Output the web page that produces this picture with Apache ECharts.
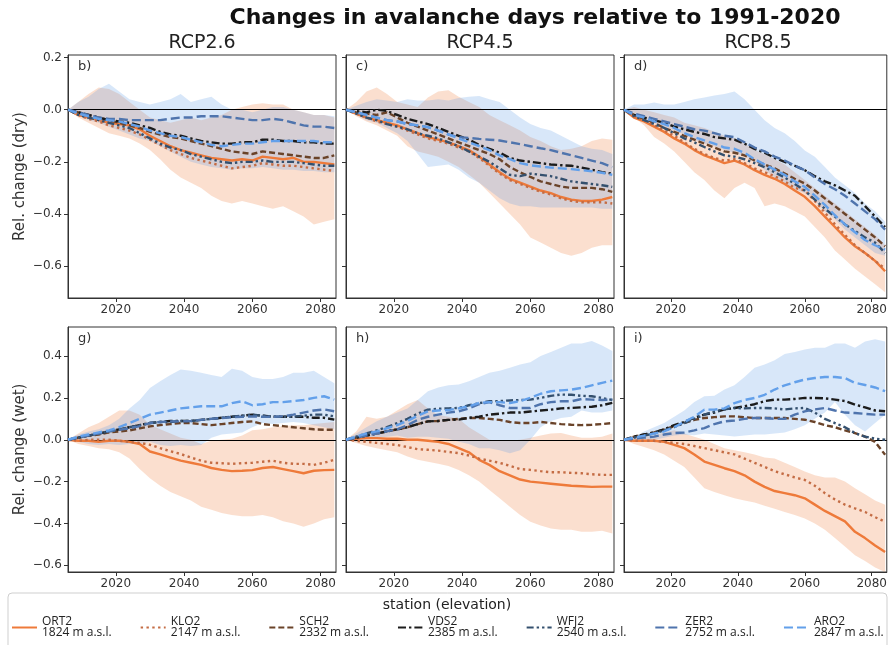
<!DOCTYPE html>
<html>
<head>
<meta charset="utf-8">
<script src="https://cdn.jsdelivr.net/npm/echarts@6/dist/echarts.min.js"></script>
<style>html,body{margin:0;padding:0;background:#fff;}#c{width:890px;height:645px;}</style>
</head>
<body>
<div id="c"></div>
<script>
// ---------------- DATA ----------------
const years = [2006,2009,2012,2015,2018,2021,2024,2027,2030,2033,2036,2039,2042,2045,2048,2051,2054,2057,2060,2063,2066,2069,2072,2075,2078,2081,2084];
const stations = ['ORT2','KLO2','SCH2','VDS2','WFJ2','ZER2','ARO2'];
const elevations = ['1824 m a.s.l.','2147 m a.s.l.','2332 m a.s.l.','2385 m a.s.l.','2540 m a.s.l.','2752 m a.s.l.','2847 m a.s.l.'];
const scenarios = ['RCP2.6','RCP4.5','RCP8.5'];
const panelLetters = ['b)','c)','d)','g)','h)','i)'];
const xTicks = [2020,2040,2060,2080];
const yTicksDry = [-0.6,-0.4,-0.2,0,0.2];
const yTicksWet = [-0.6,-0.4,-0.2,0,0.2,0.4];

// dry, RCP2.6
const dry26_ORT2 = [0,-0.02,-0.03,-0.04,-0.05,-0.055,-0.06,-0.075,-0.1,-0.12,-0.14,-0.155,-0.165,-0.175,-0.185,-0.19,-0.195,-0.19,-0.195,-0.18,-0.185,-0.19,-0.185,-0.2,-0.2,-0.205,-0.21];
const dry26_KLO2 = [0,-0.02,-0.035,-0.045,-0.06,-0.07,-0.08,-0.095,-0.115,-0.135,-0.155,-0.17,-0.185,-0.195,-0.205,-0.215,-0.225,-0.22,-0.215,-0.205,-0.21,-0.215,-0.215,-0.22,-0.225,-0.23,-0.235];
const dry26_SCH2 = [0,-0.01,-0.02,-0.03,-0.04,-0.05,-0.06,-0.07,-0.085,-0.095,-0.105,-0.11,-0.12,-0.13,-0.14,-0.15,-0.16,-0.165,-0.17,-0.16,-0.165,-0.17,-0.175,-0.18,-0.185,-0.185,-0.175];
const dry26_VDS2 = [0,-0.01,-0.02,-0.03,-0.04,-0.045,-0.05,-0.06,-0.07,-0.085,-0.095,-0.1,-0.11,-0.12,-0.125,-0.13,-0.13,-0.125,-0.125,-0.115,-0.115,-0.12,-0.12,-0.125,-0.125,-0.13,-0.13];
const dry26_WFJ2 = [0,-0.02,-0.03,-0.04,-0.05,-0.06,-0.07,-0.09,-0.11,-0.13,-0.145,-0.155,-0.17,-0.18,-0.19,-0.2,-0.205,-0.2,-0.2,-0.195,-0.2,-0.2,-0.2,-0.205,-0.21,-0.215,-0.215];
const dry26_ZER2 = [0,-0.01,-0.02,-0.03,-0.035,-0.035,-0.04,-0.04,-0.04,-0.04,-0.035,-0.03,-0.03,-0.025,-0.025,-0.025,-0.03,-0.035,-0.04,-0.04,-0.035,-0.04,-0.05,-0.06,-0.065,-0.065,-0.07];
const dry26_ARO2 = [0,-0.015,-0.025,-0.035,-0.04,-0.045,-0.055,-0.065,-0.08,-0.09,-0.1,-0.105,-0.115,-0.125,-0.135,-0.14,-0.135,-0.13,-0.13,-0.125,-0.12,-0.12,-0.12,-0.12,-0.12,-0.125,-0.125];
const dry26_orangeLo = [0,-0.03,-0.05,-0.07,-0.09,-0.1,-0.11,-0.13,-0.155,-0.19,-0.23,-0.26,-0.28,-0.3,-0.33,-0.35,-0.36,-0.35,-0.36,-0.37,-0.38,-0.37,-0.39,-0.41,-0.44,-0.43,-0.42];
const dry26_orangeHi = [0,0.03,0.06,0.085,0.08,0.06,0.03,0.0,-0.03,-0.04,-0.05,-0.04,-0.03,-0.04,-0.03,-0.02,0.0,0.01,0.02,0.025,0.02,0.02,0.0,-0.01,-0.02,-0.02,-0.03];
const dry26_blueLo = [0,-0.02,-0.04,-0.05,-0.065,-0.08,-0.095,-0.11,-0.12,-0.14,-0.16,-0.18,-0.2,-0.21,-0.22,-0.225,-0.23,-0.225,-0.225,-0.22,-0.225,-0.23,-0.23,-0.235,-0.235,-0.24,-0.24];
const dry26_blueHi = [0,0.03,0.05,0.08,0.1,0.07,0.04,0.03,0.02,0.03,0.04,0.06,0.03,0.04,0.05,0.02,0.0,0.0,-0.01,0.0,0.01,0.01,0.0,-0.01,-0.02,-0.02,-0.025];

// dry, RCP4.5
const dry45_ORT2 = [0,-0.015,-0.03,-0.04,-0.05,-0.06,-0.075,-0.09,-0.105,-0.115,-0.125,-0.14,-0.155,-0.18,-0.21,-0.24,-0.265,-0.28,-0.295,-0.31,-0.32,-0.335,-0.345,-0.35,-0.35,-0.345,-0.335];
const dry45_KLO2 = [0,-0.015,-0.03,-0.045,-0.055,-0.065,-0.08,-0.095,-0.11,-0.12,-0.13,-0.145,-0.16,-0.185,-0.215,-0.245,-0.27,-0.285,-0.3,-0.315,-0.325,-0.34,-0.35,-0.355,-0.355,-0.355,-0.36];
const dry45_SCH2 = [0,-0.01,-0.015,-0.02,-0.01,-0.03,-0.05,-0.065,-0.08,-0.095,-0.11,-0.125,-0.14,-0.155,-0.17,-0.19,-0.22,-0.24,-0.258,-0.275,-0.285,-0.295,-0.3,-0.3,-0.3,-0.305,-0.315];
const dry45_VDS2 = [0,-0.005,-0.01,0.0,-0.005,-0.02,-0.035,-0.045,-0.055,-0.07,-0.085,-0.1,-0.115,-0.135,-0.15,-0.165,-0.185,-0.195,-0.2,-0.205,-0.21,-0.213,-0.215,-0.222,-0.23,-0.24,-0.245];
const dry45_WFJ2 = [0,-0.015,-0.03,-0.04,-0.055,-0.065,-0.075,-0.09,-0.1,-0.11,-0.125,-0.14,-0.16,-0.18,-0.2,-0.225,-0.25,-0.255,-0.245,-0.25,-0.255,-0.265,-0.275,-0.28,-0.285,-0.29,-0.296];
const dry45_ZER2 = [0,-0.01,-0.02,-0.03,-0.04,-0.045,-0.055,-0.06,-0.067,-0.08,-0.095,-0.105,-0.108,-0.112,-0.115,-0.118,-0.125,-0.132,-0.14,-0.148,-0.155,-0.165,-0.175,-0.185,-0.195,-0.205,-0.22];
const dry45_ARO2 = [0,-0.01,-0.02,-0.03,-0.04,-0.045,-0.055,-0.06,-0.067,-0.08,-0.095,-0.11,-0.125,-0.14,-0.155,-0.175,-0.19,-0.205,-0.213,-0.218,-0.222,-0.225,-0.228,-0.232,-0.236,-0.242,-0.25];
const dry45_orangeLo = [0,-0.025,-0.045,-0.06,-0.08,-0.1,-0.14,-0.16,-0.17,-0.18,-0.2,-0.22,-0.25,-0.28,-0.32,-0.36,-0.4,-0.44,-0.49,-0.51,-0.53,-0.55,-0.56,-0.55,-0.53,-0.52,-0.52];
const dry45_orangeHi = [0,0.03,0.07,0.085,0.06,0.03,0.02,0.01,0.047,0.07,0.075,0.05,0.03,0.01,-0.02,-0.04,-0.06,-0.08,-0.105,-0.12,-0.14,-0.155,-0.15,-0.14,-0.12,-0.11,-0.115];
const dry45_blueLo = [0,-0.02,-0.04,-0.05,-0.07,-0.09,-0.12,-0.17,-0.22,-0.215,-0.21,-0.23,-0.26,-0.28,-0.31,-0.34,-0.36,-0.37,-0.37,-0.375,-0.375,-0.375,-0.375,-0.375,-0.375,-0.38,-0.38];
const dry45_blueHi = [0,0.015,0.03,0.04,0.035,0.03,0.04,0.035,0.035,0.04,0.035,0.045,0.05,0.053,0.04,0.03,0.0,-0.03,-0.055,-0.07,-0.08,-0.1,-0.12,-0.14,-0.15,-0.155,-0.17];

// dry, RCP8.5
const dry85_ORT2 = [0,-0.03,-0.045,-0.065,-0.085,-0.11,-0.13,-0.155,-0.175,-0.19,-0.205,-0.195,-0.21,-0.232,-0.25,-0.265,-0.285,-0.31,-0.334,-0.37,-0.41,-0.45,-0.49,-0.524,-0.55,-0.58,-0.62];
const dry85_KLO2 = [0,-0.025,-0.04,-0.06,-0.08,-0.1,-0.125,-0.15,-0.17,-0.185,-0.195,-0.19,-0.205,-0.225,-0.24,-0.255,-0.275,-0.3,-0.31,-0.35,-0.395,-0.44,-0.48,-0.52,-0.55,-0.58,-0.61];
const dry85_SCH2 = [0,-0.02,-0.035,-0.05,-0.07,-0.085,-0.1,-0.115,-0.13,-0.145,-0.16,-0.165,-0.175,-0.195,-0.21,-0.225,-0.245,-0.265,-0.283,-0.31,-0.34,-0.37,-0.4,-0.43,-0.46,-0.49,-0.524];
const dry85_VDS2 = [0,-0.02,-0.03,-0.04,-0.05,-0.065,-0.075,-0.085,-0.093,-0.105,-0.11,-0.115,-0.13,-0.15,-0.165,-0.185,-0.2,-0.215,-0.232,-0.255,-0.275,-0.29,-0.31,-0.33,-0.37,-0.41,-0.45];
const dry85_WFJ2 = [0,-0.025,-0.04,-0.055,-0.07,-0.09,-0.11,-0.125,-0.143,-0.16,-0.175,-0.18,-0.19,-0.205,-0.22,-0.24,-0.26,-0.285,-0.31,-0.345,-0.38,-0.41,-0.44,-0.465,-0.49,-0.51,-0.55];
const dry85_ZER2 = [0,-0.015,-0.025,-0.035,-0.045,-0.055,-0.065,-0.075,-0.08,-0.09,-0.1,-0.105,-0.125,-0.145,-0.16,-0.18,-0.195,-0.215,-0.232,-0.26,-0.285,-0.305,-0.33,-0.36,-0.39,-0.42,-0.46];
const dry85_ARO2 = [0,-0.02,-0.03,-0.045,-0.055,-0.07,-0.09,-0.105,-0.118,-0.13,-0.145,-0.15,-0.165,-0.19,-0.21,-0.23,-0.25,-0.275,-0.296,-0.33,-0.365,-0.405,-0.44,-0.47,-0.5,-0.52,-0.537];
const dry85_orangeLo = [0,-0.03,-0.06,-0.105,-0.13,-0.16,-0.2,-0.24,-0.27,-0.31,-0.34,-0.3,-0.28,-0.3,-0.37,-0.36,-0.37,-0.39,-0.41,-0.45,-0.49,-0.54,-0.575,-0.61,-0.64,-0.67,-0.7];
const dry85_orangeHi = [0,0.01,0.0,-0.01,-0.02,-0.03,-0.05,-0.06,-0.07,-0.085,-0.1,-0.11,-0.13,-0.155,-0.17,-0.19,-0.21,-0.24,-0.27,-0.3,-0.33,-0.36,-0.39,-0.42,-0.45,-0.48,-0.52];
const dry85_blueLo = [0,-0.02,-0.035,-0.05,-0.065,-0.08,-0.095,-0.115,-0.13,-0.14,-0.155,-0.165,-0.18,-0.2,-0.23,-0.26,-0.28,-0.305,-0.32,-0.35,-0.39,-0.42,-0.46,-0.49,-0.52,-0.55,-0.56];
const dry85_blueHi = [0,0.02,0.02,0.028,0.02,0.02,0.03,0.04,0.047,0.055,0.06,0.07,0.04,0.0,-0.04,-0.07,-0.09,-0.12,-0.156,-0.18,-0.22,-0.26,-0.29,-0.32,-0.36,-0.39,-0.43];

// wet, RCP2.6
const wet26_ORT2 = [0,-0.005,-0.005,-0.01,-0.005,-0.005,-0.01,-0.02,-0.056,-0.07,-0.085,-0.1,-0.11,-0.12,-0.135,-0.144,-0.15,-0.148,-0.145,-0.135,-0.13,-0.14,-0.15,-0.16,-0.148,-0.145,-0.144];
const wet26_KLO2 = [0,-0.005,0.0,0.0,0.0,-0.005,-0.01,-0.015,-0.024,-0.04,-0.055,-0.068,-0.085,-0.1,-0.11,-0.112,-0.115,-0.112,-0.11,-0.105,-0.1,-0.11,-0.115,-0.115,-0.12,-0.11,-0.096];
const wet26_SCH2 = [0,0.01,0.02,0.025,0.035,0.04,0.045,0.055,0.064,0.07,0.075,0.08,0.08,0.075,0.07,0.075,0.08,0.085,0.088,0.075,0.07,0.065,0.06,0.055,0.05,0.048,0.048];
const wet26_VDS2 = [0,0.01,0.02,0.03,0.04,0.05,0.06,0.07,0.08,0.085,0.09,0.09,0.09,0.095,0.1,0.105,0.11,0.115,0.12,0.115,0.11,0.11,0.11,0.11,0.105,0.105,0.096];
const wet26_WFJ2 = [0,0.01,0.02,0.03,0.04,0.05,0.06,0.07,0.08,0.085,0.085,0.09,0.09,0.095,0.1,0.105,0.11,0.115,0.12,0.115,0.11,0.11,0.11,0.115,0.12,0.12,0.112];
const wet26_ZER2 = [0,0.01,0.02,0.03,0.04,0.048,0.055,0.065,0.08,0.085,0.088,0.088,0.09,0.095,0.1,0.104,0.108,0.11,0.112,0.11,0.11,0.112,0.12,0.13,0.14,0.145,0.136];
const wet26_ARO2 = [0,0.015,0.025,0.035,0.045,0.06,0.08,0.1,0.12,0.13,0.14,0.15,0.155,0.16,0.16,0.16,0.175,0.184,0.165,0.17,0.18,0.18,0.185,0.19,0.2,0.208,0.192];
const wet26_orangeLo = [0,-0.02,-0.03,-0.04,-0.045,-0.06,-0.09,-0.14,-0.184,-0.22,-0.25,-0.27,-0.29,-0.32,-0.335,-0.35,-0.36,-0.365,-0.365,-0.36,-0.37,-0.39,-0.4,-0.416,-0.4,-0.38,-0.37];
const wet26_orangeHi = [0,0.03,0.06,0.08,0.11,0.14,0.14,0.12,0.072,0.05,0.03,0.01,0.0,-0.02,-0.005,0.0,0.005,0.02,0.045,0.05,0.06,0.065,0.07,0.07,0.075,0.08,0.085];
const wet26_blueLo = [0,-0.01,-0.02,-0.025,-0.02,-0.025,-0.02,-0.02,-0.01,-0.025,-0.03,-0.025,-0.03,-0.025,0.01,0.025,0.03,0.035,0.06,0.08,0.075,0.08,0.085,0.08,0.07,0.06,0.05];
const wet26_blueHi = [0,0.025,0.04,0.05,0.07,0.1,0.15,0.19,0.248,0.28,0.31,0.336,0.33,0.32,0.31,0.3,0.34,0.33,0.3,0.29,0.29,0.3,0.32,0.32,0.33,0.3,0.27];

// wet, RCP4.5
const wet45_ORT2 = [0,0.005,0.008,0.008,0.005,0.005,0.0,0.0,-0.005,-0.01,-0.02,-0.04,-0.06,-0.096,-0.12,-0.15,-0.17,-0.19,-0.2,-0.205,-0.21,-0.215,-0.22,-0.222,-0.225,-0.224,-0.224];
const wet45_KLO2 = [0,-0.005,-0.01,-0.015,-0.02,-0.025,-0.035,-0.045,-0.048,-0.052,-0.058,-0.064,-0.075,-0.09,-0.1,-0.11,-0.125,-0.14,-0.144,-0.15,-0.155,-0.155,-0.158,-0.16,-0.165,-0.168,-0.168];
const wet45_SCH2 = [0,0.01,0.02,0.03,0.04,0.05,0.06,0.075,0.088,0.09,0.095,0.1,0.104,0.104,0.1,0.095,0.085,0.08,0.08,0.085,0.08,0.075,0.072,0.07,0.072,0.075,0.08];
const wet45_VDS2 = [0,0.01,0.02,0.03,0.04,0.05,0.06,0.075,0.088,0.09,0.095,0.096,0.105,0.11,0.12,0.125,0.13,0.13,0.135,0.14,0.144,0.15,0.152,0.155,0.158,0.165,0.176];
const wet45_WFJ2 = [0,0.015,0.03,0.045,0.06,0.08,0.1,0.125,0.144,0.148,0.15,0.152,0.165,0.175,0.184,0.185,0.188,0.19,0.192,0.2,0.21,0.216,0.215,0.21,0.208,0.2,0.19];
const wet45_ZER2 = [0,0.01,0.02,0.03,0.04,0.05,0.07,0.095,0.11,0.12,0.13,0.136,0.15,0.17,0.18,0.165,0.152,0.152,0.152,0.17,0.18,0.184,0.184,0.195,0.192,0.19,0.192];
const wet45_ARO2 = [0,0.015,0.03,0.04,0.055,0.07,0.09,0.115,0.136,0.14,0.142,0.15,0.16,0.176,0.18,0.18,0.175,0.185,0.2,0.22,0.232,0.236,0.24,0.248,0.26,0.272,0.283];
const wet45_orangeLo = [0,-0.015,-0.03,-0.04,-0.05,-0.06,-0.08,-0.095,-0.105,-0.115,-0.125,-0.145,-0.17,-0.2,-0.24,-0.28,-0.32,-0.36,-0.392,-0.41,-0.424,-0.43,-0.43,-0.44,-0.44,-0.435,-0.448];
const wet45_orangeHi = [0,0.04,0.11,0.1,0.11,0.14,0.17,0.19,0.15,0.12,0.11,0.1,0.06,0.03,0.0,-0.005,-0.005,0.0,0.01,0.02,0.03,0.032,0.02,0.01,0.01,0.015,0.03];
const wet45_blueLo = [0,-0.01,0.0,0.01,0.015,0.02,0.01,0.015,0.015,0.01,0.005,-0.01,-0.02,-0.04,-0.04,-0.05,-0.064,-0.05,0.0,0.06,0.09,0.104,0.11,0.14,0.13,0.13,0.14];
const wet45_blueHi = [0,0.03,0.06,0.088,0.11,0.13,0.15,0.19,0.232,0.25,0.26,0.264,0.28,0.3,0.32,0.33,0.344,0.36,0.37,0.4,0.42,0.44,0.46,0.46,0.472,0.45,0.424];

// wet, RCP8.5
const wet85_ORT2 = [0,-0.005,-0.005,-0.005,-0.01,-0.024,-0.04,-0.07,-0.104,-0.12,-0.136,-0.15,-0.17,-0.2,-0.225,-0.245,-0.255,-0.265,-0.28,-0.31,-0.34,-0.365,-0.39,-0.44,-0.47,-0.505,-0.536];
const wet85_KLO2 = [0,-0.005,-0.005,-0.005,-0.01,-0.015,-0.02,-0.03,-0.04,-0.05,-0.06,-0.07,-0.09,-0.11,-0.13,-0.15,-0.165,-0.18,-0.192,-0.22,-0.255,-0.285,-0.31,-0.328,-0.345,-0.37,-0.392];
const wet85_SCH2 = [0,0.015,0.025,0.035,0.05,0.065,0.08,0.095,0.104,0.108,0.112,0.112,0.108,0.104,0.104,0.104,0.104,0.1,0.096,0.085,0.07,0.06,0.045,0.032,0.015,-0.01,-0.072];
const wet85_VDS2 = [0,0.015,0.025,0.035,0.05,0.07,0.085,0.105,0.12,0.13,0.145,0.152,0.16,0.17,0.185,0.192,0.192,0.195,0.2,0.2,0.198,0.192,0.185,0.168,0.155,0.14,0.136];
const wet85_WFJ2 = [0,0.01,0.02,0.03,0.045,0.06,0.08,0.1,0.12,0.135,0.145,0.152,0.15,0.152,0.152,0.15,0.145,0.15,0.152,0.13,0.1,0.08,0.06,0.032,0.015,0.005,0.0];
const wet85_ZER2 = [0,0.005,0.01,0.015,0.025,0.032,0.035,0.045,0.056,0.075,0.088,0.092,0.1,0.104,0.104,0.1,0.1,0.12,0.136,0.145,0.152,0.14,0.13,0.128,0.124,0.12,0.12];
const wet85_ARO2 = [0,0.01,0.02,0.03,0.04,0.06,0.085,0.11,0.144,0.144,0.15,0.175,0.19,0.2,0.215,0.24,0.26,0.275,0.288,0.295,0.3,0.3,0.295,0.272,0.262,0.25,0.232];
const wet85_orangeLo = [0,-0.02,-0.035,-0.05,-0.07,-0.1,-0.13,-0.18,-0.232,-0.25,-0.265,-0.28,-0.29,-0.3,-0.315,-0.33,-0.345,-0.36,-0.376,-0.4,-0.43,-0.47,-0.51,-0.552,-0.58,-0.61,-0.632];
const wet85_orangeHi = [0,0.01,0.015,0.02,0.035,0.045,0.03,0.015,0.0,-0.02,-0.04,-0.05,-0.06,-0.07,-0.085,-0.09,-0.11,-0.13,-0.152,-0.17,-0.18,-0.18,-0.2,-0.232,-0.26,-0.29,-0.31];
const wet85_blueLo = [0,-0.01,-0.005,0.0,0.01,0.02,0.024,0.022,0.03,0.025,0.02,0.016,0.02,0.025,0.025,0.03,0.035,0.05,0.07,0.1,0.13,0.18,0.12,0.07,0.04,0.08,0.12];
const wet85_blueHi = [0,0.015,0.04,0.06,0.08,0.11,0.14,0.18,0.208,0.21,0.24,0.26,0.3,0.344,0.36,0.38,0.41,0.42,0.432,0.44,0.44,0.46,0.46,0.44,0.47,0.48,0.47];

// ---------------- BUILD ----------------
const panels = [
  {lines:[dry26_ORT2,dry26_KLO2,dry26_SCH2,dry26_VDS2,dry26_WFJ2,dry26_ZER2,dry26_ARO2], orange:[dry26_orangeLo,dry26_orangeHi], blue:[dry26_blueLo,dry26_blueHi]},
  {lines:[dry45_ORT2,dry45_KLO2,dry45_SCH2,dry45_VDS2,dry45_WFJ2,dry45_ZER2,dry45_ARO2], orange:[dry45_orangeLo,dry45_orangeHi], blue:[dry45_blueLo,dry45_blueHi]},
  {lines:[dry85_ORT2,dry85_KLO2,dry85_SCH2,dry85_VDS2,dry85_WFJ2,dry85_ZER2,dry85_ARO2], orange:[dry85_orangeLo,dry85_orangeHi], blue:[dry85_blueLo,dry85_blueHi]},
  {lines:[wet26_ORT2,wet26_KLO2,wet26_SCH2,wet26_VDS2,wet26_WFJ2,wet26_ZER2,wet26_ARO2], orange:[wet26_orangeLo,wet26_orangeHi], blue:[wet26_blueLo,wet26_blueHi]},
  {lines:[wet45_ORT2,wet45_KLO2,wet45_SCH2,wet45_VDS2,wet45_WFJ2,wet45_ZER2,wet45_ARO2], orange:[wet45_orangeLo,wet45_orangeHi], blue:[wet45_blueLo,wet45_blueHi]},
  {lines:[wet85_ORT2,wet85_KLO2,wet85_SCH2,wet85_VDS2,wet85_WFJ2,wet85_ZER2,wet85_ARO2], orange:[wet85_orangeLo,wet85_orangeHi], blue:[wet85_blueLo,wet85_blueHi]}
];

const lineStyles = [
  {color:'#ee7a3a', type:'solid'},
  {color:'#c46c44', type:[2.4,3.4]},
  {color:'#6a4329', type:[6,3]},
  {color:'#1c1c1c', type:[8,3,2.4,3]},
  {color:'#34506e', type:[7,3,2.4,3,2.4,3]},
  {color:'#4f74ad', type:[9,4]},
  {color:'#63a0ea', type:[9,4]}
];

const FONT = 'DejaVu Sans';
const colLeft = [68, 346, 624];
const rowTop = [55, 327];
const rowH = [243, 245];
const rowRange = [[-0.7225, 0.21], [-0.632, 0.539]];
const rowTicks = [yTicksDry, yTicksWet];
const rowNames = ['Rel. change (dry)', 'Rel. change (wet)'];
const fmtY = v => (Math.abs(v) < 1e-9 ? '0.0' : v.toFixed(1).replace('-', '\u2212'));

const grids = [], xAxes = [], yAxes = [], series = [];

function addBand(i, lo, hi, color, opacity) {
  series.push({type:'custom', xAxisIndex:i, yAxisIndex:i, silent:true, clip:true, z:1,
    data: [[years[0], lo[0]]],
    renderItem: function (params, api) {
      const pts = [];
      for (let k = 0; k < years.length; k++) pts.push(api.coord([years[k], hi[k]]));
      for (let k = years.length - 1; k >= 0; k--) pts.push(api.coord([years[k], lo[k]]));
      return {type:'polygon', shape:{points: pts}, style:{fill: color, opacity: opacity}};
    }});
}

panels.forEach((p, i) => {
  const col = i % 3, row = Math.floor(i / 3);
  grids.push({left: colLeft[col], top: rowTop[row], width: 268, height: rowH[row],
    show: true, borderColor: '#333', borderWidth: 1, backgroundColor: 'transparent'});
  xAxes.push({type:'value', gridIndex:i, min:2006, max:2084.5,
    axisLine:{show:true, onZero:false, lineStyle:{color:'#333', width:1}},
    axisTick:{show:true, length:4, customValues:xTicks, lineStyle:{color:'#333'}},
    axisLabel:{show:true, customValues:xTicks, margin:6, fontSize:12, color:'#333', fontFamily:FONT, formatter: v => String(v)},
    splitLine:{show:false}});
  yAxes.push({type:'value', gridIndex:i, min:rowRange[row][0], max:rowRange[row][1],
    name: col === 0 ? rowNames[row] : '', nameLocation:'middle', nameGap:40,
    nameTextStyle:{fontSize:15, color:'#333', fontFamily:FONT},
    axisLine:{show:true, onZero:false, lineStyle:{color:'#333', width:1}},
    axisTick:{show:true, length:4, customValues:rowTicks[row], lineStyle:{color:'#333'}},
    axisLabel:{show: col === 0, customValues:rowTicks[row], margin:6, fontSize:12, color:'#333', fontFamily:FONT, formatter: fmtY},
    splitLine:{show:false}});
  addBand(i, p.orange[0], p.orange[1], '#f08040', 0.25);
  addBand(i, p.blue[0], p.blue[1], '#5b9be6', 0.24);
  p.lines.forEach((vals, s) => {
    const st = lineStyles[s];
    const ser = {type:'line', name: stations[s], xAxisIndex:i, yAxisIndex:i,
      data: years.map((y,k)=>[y, vals[k]]), symbol:'none', z:3,
      lineStyle:{color: st.color, width: 2.4, type: st.type, cap:'butt'},
      itemStyle:{color: st.color}};
    if (s === 0) {
      ser.markLine = {silent:true, symbol:['none','none'], label:{show:false},
        lineStyle:{color:'#000', width:1, type:'solid'}, data:[{yAxis:0}], z:2};
    }
    series.push(ser);
  });
});

const graphics = [];
graphics.push({type:'text', x:535, y:18, style:{text:'Changes in avalanche days relative to 1991-2020',
  font:'bold 22px "DejaVu Sans"', fill:'#111', textAlign:'center', textVerticalAlign:'middle'}});
scenarios.forEach((s, c) => {
  graphics.push({type:'text', x: colLeft[c] + 134, y: 43, style:{text:s, font:'19px "DejaVu Sans"',
    fill:'#222', textAlign:'center', textVerticalAlign:'middle'}});
});
panelLetters.forEach((l, i) => {
  const col = i % 3, row = Math.floor(i / 3);
  graphics.push({type:'text', x: colLeft[col] + 10, y: rowTop[row] + 12, style:{text:l, font:'13px "DejaVu Sans"',
    fill:'#333', textAlign:'left', textVerticalAlign:'middle'}});
});
graphics.push({type:'rect', shape:{x:8, y:593, width:879, height:62, r:4},
  style:{fill:'#fff', stroke:'#cfcfcf', lineWidth:1}, z:-1});
graphics.push({type:'text', x:447, y:605, style:{text:'station (elevation)', font:'14px "DejaVu Sans"',
  fill:'#222', textAlign:'center', textVerticalAlign:'middle'}});

const elevOf = {};
stations.forEach((s, k) => { elevOf[s] = elevations[k]; });

const chart = echarts.init(document.getElementById('c'), null, {renderer:'canvas'});
chart.setOption({
  animation: false,
  backgroundColor: '#fff',
  textStyle: {fontFamily: FONT},
  grid: grids,
  xAxis: xAxes,
  yAxis: yAxes,
  legend: {data: stations, left: 11, top: 616, padding: 0, itemWidth: 25, itemHeight: 10, itemGap: 28,
    selectedMode: false, formatter: n => n + '\n' + elevOf[n],
    itemStyle: {color: 'rgba(0,0,0,0)', borderWidth: 0, opacity: 0},
    textStyle: {fontFamily: 'Open Sans', fontSize: 12, lineHeight: 11, color: '#222'}},
  graphic: graphics,
  series: series
});
</script>
</body>
</html>
